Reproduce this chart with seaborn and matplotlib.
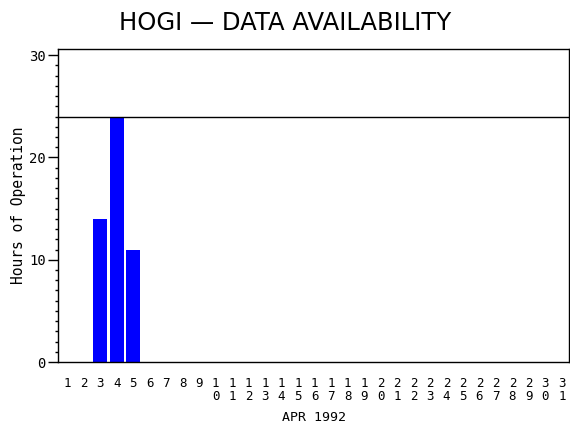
import numpy as np
import pandas as pd
import seaborn as sns
import matplotlib.pyplot as plt
from matplotlib.ticker import MultipleLocator

# data
days = [3, 4, 5]
hours = [14, 24, 11]
all_days = list(range(1, 32))
day_labels = ["\n".join(str(d)) for d in all_days]
y_ticks = [0, 10, 20, 30]
max_hours = 24

sns.set_style("white")
plt.rcParams['font.family'] = ['DejaVu Sans Mono', 'DejaVu Sans']
plt.rcParams['text.color'] = 'black'
plt.rcParams['axes.labelcolor'] = 'black'
plt.rcParams['xtick.color'] = 'black'
plt.rcParams['ytick.color'] = 'black'

df = pd.DataFrame({"day": days, "hours": hours})

fig = plt.figure(figsize=(5.7, 4.3), dpi=100)
ax = fig.add_axes([0.102, 0.158, 0.896, 0.728])

sns.barplot(data=df, x="day", y="hours", native_scale=True, color="#0000ff",
            saturation=1, width=0.85, linewidth=0, ax=ax)
ax.axhline(max_hours, color="black", lw=1)

ax.set_xlim(0.45, 31.42)
ax.set_ylim(0, 30.6)
ax.set_xticks(all_days)
ax.set_xticklabels(day_labels, fontsize=9, linespacing=0.95, va="top")
ax.tick_params(axis="x", length=0, pad=11)
ax.set_yticks(y_ticks)
ax.yaxis.set_minor_locator(MultipleLocator(1))
ax.tick_params(axis="y", which="major", length=7, width=1, direction="out", left=True, labelsize=10, pad=2)
ax.tick_params(axis="y", which="minor", length=2.5, width=1, direction="out", left=True)

for s in ax.spines.values():
    s.set_color("black")
    s.set_linewidth(1)

ax.set_xlabel("APR 1992", fontsize=9.5, labelpad=6)
ax.set_ylabel("Hours of Operation", fontsize=10.5, va="center")
ax.yaxis.set_label_coords(-0.078, 0.5)
fig.text(0.5, 0.975, "HOGI — DATA AVAILABILITY", ha="center", va="top",
         fontsize=17.5, family="DejaVu Sans")

fig.savefig("out.png", dpi=100)
